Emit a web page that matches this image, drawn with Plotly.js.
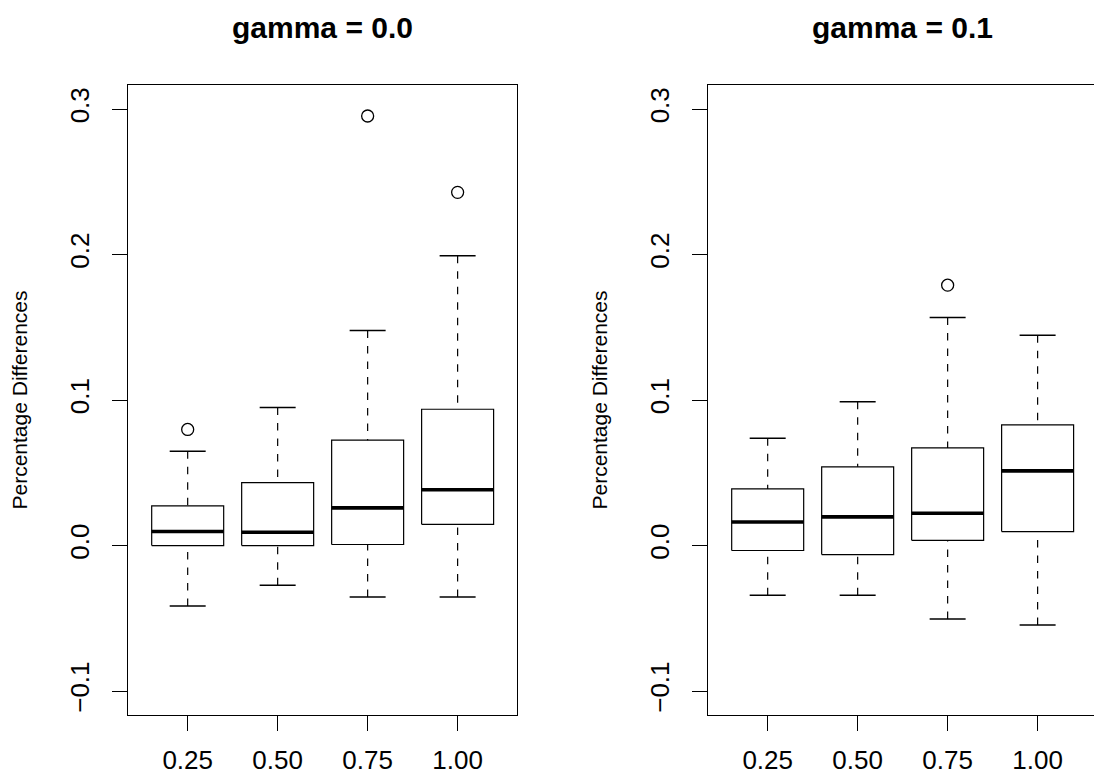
<!DOCTYPE html>
<html>
<head>
<meta charset="utf-8">
<script src="https://cdn.plot.ly/plotly-3.0.1.min.js"></script>
<style>
  html, body { margin: 0; padding: 0; background: #ffffff; }
  #chart { width: 1094px; height: 782px; }
</style>
</head>
<body>
<div id="chart"></div>
<script>
// ---- data ----
const categories = ['0.25', '0.50', '0.75', '1.00'];
const panelTitles = ['gamma = 0.0', 'gamma = 0.1'];
const yLabel = 'Percentage Differences';

// gamma = 0.0
const g0Lower  = [-0.0415, -0.0273, -0.0353, -0.0353];
const g0Q1     = [ 0.0000,  0.0000,  0.0007,  0.0146];
const g0Median = [ 0.0096,  0.0091,  0.0259,  0.0383];
const g0Q3     = [ 0.0272,  0.0433,  0.0724,  0.0937];
const g0Upper  = [ 0.0649,  0.0949,  0.1479,  0.1992];
const g0OutCat = ['0.25', '0.75', '1.00'];
const g0OutVal = [ 0.0798,  0.2953,  0.2428];

// gamma = 0.1
const g1Lower  = [-0.0342, -0.0342, -0.0505, -0.0546];
const g1Q1     = [-0.0034, -0.0062,  0.0036,  0.0096];
const g1Median = [ 0.0162,  0.0197,  0.0222,  0.0513];
const g1Q3     = [ 0.0389,  0.0541,  0.0671,  0.0829];
const g1Upper  = [ 0.0738,  0.0988,  0.1568,  0.1446];
const g1OutCat = ['0.75'];
const g1OutVal = [ 0.179];

// ---- styling ----
const FONT = '"Liberation Sans", Arial, Helvetica, sans-serif';
const BOX_HALF = 0.4;    // boxwex 0.8
const CAP_HALF = 0.2;    // staple width 0.5 * box width
const pos = categories.map((c, i) => i + 1);

function panelTraces(lo, q1, med, q3, hi, outCat, outVal, xa, ya) {
  const box = {x: [], y: []}, medL = {x: [], y: []}, wh = {x: [], y: []}, cap = {x: [], y: []};
  pos.forEach((p, i) => {
    box.x.push(p - BOX_HALF, p + BOX_HALF, p + BOX_HALF, p - BOX_HALF, p - BOX_HALF, null);
    box.y.push(q1[i], q1[i], q3[i], q3[i], q1[i], null);
    medL.x.push(p - BOX_HALF, p + BOX_HALF, null);
    medL.y.push(med[i], med[i], null);
    wh.x.push(p, p, null, p, p, null);
    wh.y.push(lo[i], q1[i], null, hi[i], q3[i], null);
    cap.x.push(p - CAP_HALF, p + CAP_HALF, null, p - CAP_HALF, p + CAP_HALF, null);
    cap.y.push(lo[i], lo[i], null, hi[i], hi[i], null);
  });
  const common = {xaxis: xa, yaxis: ya, mode: 'lines', hoverinfo: 'skip', showlegend: false};
  return [
    Object.assign({}, common, {x: wh.x, y: wh.y, line: {color: '#000', width: 1.2, dash: '7.5px,8px'}}),
    Object.assign({}, common, {x: cap.x, y: cap.y, line: {color: '#000', width: 1.5}}),
    Object.assign({}, common, {x: box.x, y: box.y, line: {color: '#000', width: 1.2}}),
    Object.assign({}, common, {x: medL.x, y: medL.y, line: {color: '#000', width: 3.6}}),
    {
      x: outCat.map(c => categories.indexOf(c) + 1), y: outVal, xaxis: xa, yaxis: ya,
      mode: 'markers', showlegend: false, hoverinfo: 'y',
      marker: {symbol: 'circle-open', size: 12, color: '#000', line: {color: '#000', width: 1.3}}
    }
  ];
}

const data = []
  .concat(panelTraces(g0Lower, g0Q1, g0Median, g0Q3, g0Upper, g0OutCat, g0OutVal, 'x', 'y'))
  .concat(panelTraces(g1Lower, g1Q1, g1Median, g1Q3, g1Upper, g1OutCat, g1OutVal, 'x2', 'y2'));

const W = 1094, H = 782;
const plotTop = 85, plotBottom = 715;
const yDomain = [1 - plotBottom / H, 1 - plotTop / H];
const pxPerUnit = (517 - 128.3) / 4.32;

function xAxis(domain, rangeMax) {
  return {
    domain: domain, range: [0.34, rangeMax], fixedrange: true,
    tickmode: 'array', tickvals: pos, ticktext: categories,
    ticks: 'outside', ticklen: 15, tickwidth: 1, tickcolor: '#000',
    showline: true, mirror: true, linecolor: '#000', linewidth: 1.2,
    showgrid: false, zeroline: false,
    tickfont: {family: FONT, size: 26, color: '#000'},
    ticklabelstandoff: 7
  };
}
function yAxis(anchor, mirror) {
  return {
    domain: yDomain, anchor: anchor, range: [-0.1165, 0.3166], fixedrange: true,
    tickmode: 'linear', tick0: 0, dtick: 0.1, tickformat: '.1f',
    ticks: 'outside', ticklen: 15, tickwidth: 1, tickcolor: '#000', tickangle: -90,
    showline: true, mirror: mirror, linecolor: '#000', linewidth: 1.2,
    showgrid: false, zeroline: false,
    tickfont: {family: FONT, size: 26, color: '#000'},
    ticklabelstandoff: 13,
    title: {text: yLabel, font: {family: FONT, size: 21, color: '#000'}, standoff: 31}
  };
}

const layout = {
  width: W, height: H,
  margin: {l: 0, r: 0, t: 0, b: 0, pad: 0},
  paper_bgcolor: '#fff', plot_bgcolor: '#fff',
  showlegend: false,
  xaxis: Object.assign(xAxis([128.3 / W, 517 / W], 4.66), {anchor: 'y'}),
  yaxis: yAxis('x', true),
  xaxis2: Object.assign(xAxis([708.3 / W, 1], 0.34 + (W - 708.3) / pxPerUnit), {anchor: 'y2'}),
  yaxis2: yAxis('x2', false),
  annotations: panelTitles.map((t, i) => ({
    text: '<b>' + t + '</b>', showarrow: false,
    xref: 'paper', x: (i === 0 ? (128.3 + 517) / 2 : 708.3 + 194.4) / W, xanchor: 'center',
    yref: 'paper', y: 1 - 28 / H, yanchor: 'middle',
    font: {family: FONT, size: 30, color: '#000'}
  }))
};

Plotly.newPlot('chart', data, layout, {displayModeBar: false, staticPlot: true});
</script>
</body>
</html>
